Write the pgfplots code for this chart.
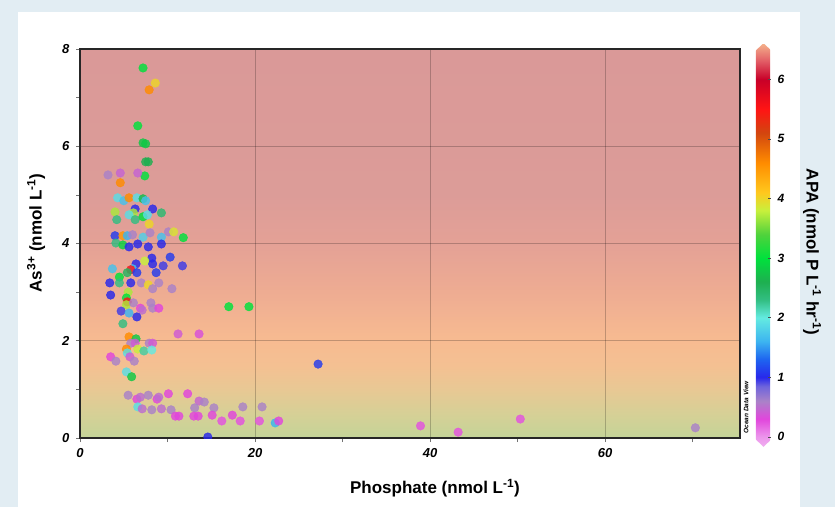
\documentclass[border=0pt]{standalone}
\usepackage{fontspec}
\setmainfont{Liberation Sans}
\usepackage{pgfplots}
\pgfplotsset{compat=1.18}
\usepackage{pgfplotstable}

\definecolor{outerbg}{RGB}{226,237,243}
\definecolor{bgA}{RGB}{196,212,152}
\definecolor{bgB}{RGB}{214,208,150}
\definecolor{bgC}{RGB}{232,200,148}
\definecolor{bgD}{RGB}{244,192,146}
\definecolor{bgE}{RGB}{247,187,145}
\definecolor{bgF}{RGB}{238,172,146}
\definecolor{bgG}{RGB}{228,161,150}
\definecolor{bgH}{RGB}{220,156,152}
\definecolor{bgI}{RGB}{218,153,152}

\pgfdeclareverticalshading{bgshade}{100bp}{color(0bp)=(bgA); color(25bp)=(bgA); color(28.125bp)=(bgB); color(31.25bp)=(bgC); color(34.375bp)=(bgD); color(37.5bp)=(bgE); color(43.75bp)=(bgF); color(50bp)=(bgG); color(56.25bp)=(bgH); color(75bp)=(bgI); color(100bp)=(bgI)}

\pgfplotsset{
  colormap={apa}{
    rgb255(0pt)=(240,175,240);
    rgb255(17pt)=(236,150,236);
    rgb255(47pt)=(225,70,220);
    rgb255(77pt)=(170,130,200);
    rgb255(102pt)=(110,100,220);
    rgb255(117pt)=(40,40,235);
    rgb255(147pt)=(30,100,240);
    rgb255(177pt)=(60,180,240);
    rgb255(217pt)=(100,235,225);
    rgb255(247pt)=(50,190,130);
    rgb255(277pt)=(30,175,80);
    rgb255(317pt)=(0,225,60);
    rgb255(357pt)=(80,210,60);
    rgb255(397pt)=(200,240,60);
    rgb255(427pt)=(255,200,30);
    rgb255(477pt)=(255,140,0);
    rgb255(527pt)=(210,70,15);
    rgb255(567pt)=(255,20,20);
    rgb255(617pt)=(200,0,40);
    rgb255(647pt)=(225,90,100);
    rgb255(678pt)=(245,180,140)
  }
}

\pgfplotstableread{
x y c
7.2 7.61 3.0
8.6 7.30 4.0
7.9 7.16 4.6
6.6 6.42 3.0
7.2 6.07 2.8
7.5 6.05 2.8
7.5 5.68 2.6
7.8 5.68 2.6
7.4 5.39 3.0
3.2 5.41 0.6
4.6 5.45 0.45
6.6 5.45 0.45
4.6 5.25 4.6
4.3 4.94 1.9
5.0 4.88 1.7
5.6 4.94 4.6
6.5 4.94 1.9
7.2 4.92 2.7
7.5 4.88 1.7
6.3 4.71 1.0
8.3 4.71 1.0
9.3 4.63 2.4
4.0 4.65 3.7
6.1 4.63 3.7
5.6 4.59 1.9
4.2 4.49 2.3
6.3 4.49 2.3
7.2 4.55 3.0
7.7 4.59 1.9
7.9 4.40 4.0
4.0 4.16 1.1
4.9 4.16 4.5
5.4 4.16 1.6
6.0 4.18 0.6
7.2 4.13 1.8
8.0 4.22 0.6
10.1 4.24 0.6
10.7 4.24 3.9
11.8 4.12 3.0
9.3 4.13 1.7
4.1 4.01 2.3
4.9 3.97 2.9
5.6 3.93 1.0
6.6 3.99 1.0
7.8 3.93 1.0
9.3 3.99 1.0
8.2 3.70 1.0
10.3 3.72 1.1
7.4 3.64 3.8
8.3 3.58 1.0
6.4 3.58 1.0
9.5 3.54 0.95
11.7 3.54 0.95
3.7 3.48 1.7
6.0 3.48 1.7
5.8 3.46 5.5
5.4 3.40 2.5
6.5 3.40 1.1
8.7 3.40 1.1
4.5 3.31 3.0
4.5 3.19 2.3
3.4 3.19 1.0
5.8 3.19 1.0
7.0 3.19 0.6
7.8 3.15 4.0
8.3 3.07 0.6
9.0 3.19 0.6
10.5 3.07 0.6
3.5 2.94 1.0
5.5 3.00 3.7
5.3 2.88 3.0
5.4 2.80 5.5
5.3 2.74 3.7
6.1 2.78 0.6
6.9 2.67 0.3
7.1 2.63 0.5
8.1 2.78 0.6
8.3 2.67 0.6
9.0 2.67 0.3
4.7 2.61 0.95
5.6 2.57 1.6
6.5 2.49 1.0
4.9 2.35 2.3
11.2 2.14 0.4
13.6 2.14 0.35
17.0 2.70 3.0
19.3 2.70 3.0
5.6 2.08 4.6
6.4 2.04 2.8
5.8 1.95 0.6
6.3 1.95 0.4
7.9 1.95 0.6
8.3 1.95 0.4
5.3 1.83 4.6
5.4 1.75 1.9
6.6 1.83 3.8
7.3 1.79 2.2
8.2 1.81 2.0
3.5 1.67 0.3
4.1 1.58 0.6
5.7 1.67 0.4
6.2 1.58 0.6
5.3 1.36 1.9
5.9 1.26 2.8
27.2 1.52 1.1
5.5 0.88 0.6
6.5 0.80 0.3
6.9 0.84 0.5
7.8 0.88 0.6
8.8 0.80 0.3
9.0 0.84 0.5
10.1 0.91 0.3
12.3 0.91 0.3
13.6 0.76 0.45
14.2 0.74 0.6
6.6 0.64 1.9
7.1 0.60 0.5
8.2 0.58 0.6
9.3 0.60 0.5
10.4 0.58 0.6
10.9 0.45 0.3
11.3 0.45 0.3
13.1 0.62 0.6
13.0 0.45 0.3
13.5 0.45 0.3
15.3 0.62 0.6
15.1 0.47 0.3
16.2 0.35 0.25
17.4 0.47 0.3
18.3 0.35 0.25
18.6 0.64 0.6
20.5 0.35 0.25
20.8 0.64 0.6
22.3 0.31 1.6
22.7 0.35 0.3
14.6 0.02 1.0
38.9 0.25 0.25
43.2 0.12 0.25
50.3 0.39 0.25
70.3 0.21 0.6
}\apadata

\begin{document}
\begin{tikzpicture}[x=1pt,y=1pt]
\useasboundingbox (0,0) rectangle (835,507);
\fill[outerbg] (0,0) rectangle (835,507);
\fill[white] (18,0) rectangle (800,495);
\begin{axis}[
  at={(80pt,69pt)}, anchor=south west,
  scale only axis, width=660pt, height=389pt,
  xmin=0, xmax=75.4, ymin=0, ymax=8,
  xtick={0,20,40,60}, minor xtick={10,30,50,70},
  ytick={0,2,4,6,8}, minor ytick={1,3,5,7},
  tick align=outside, tick pos=left,
  major tick length=4pt, minor tick length=4pt,
  tick style={black!55, line width=0.6pt},
  grid=major,
  major grid style={line width=0.8pt, black, opacity=0.22},
  axis line style={line width=1.5pt, black!85},
  axis background/.style={shade, shading=bgshade},
  /pgf/number format/assume math mode=true,
  ticklabel style={font=\fontsize{13}{13}\selectfont\bfseries\itshape},
  xticklabel style={yshift=-3pt},
  yticklabel style={xshift=-3pt},
  colormap name=apa,
  point meta min=-0.17, point meta max=6.61,
  clip marker paths=true,
  colorbar,
  colorbar style={
    at={(1.0242,-0.0231)}, anchor=south west,
    scale only axis, width=15pt, height=404pt,
    axis line style={draw=none},
    ytick={0,1,2,3,4,5,6},
    ytick pos=right, tick align=inside,
    major tick length=3pt,
    tick style={black!70, line width=0.6pt},
    /pgf/number format/assume math mode=true,
    yticklabel style={font=\fontsize{12}{12}\selectfont\bfseries\itshape, xshift=3pt},
  },
]
\addplot[scatter, only marks, mark=*, mark size=4.3pt, opacity=0.82,
  point meta=explicit,
  scatter/use mapped color={draw=mapped color, fill=mapped color}]
  table[x=x, y=y, meta=c] {\apadata};
\end{axis}
% pointed ends of colour bar
\fill[white] (754,455) -- (763.5,464) -- (763.5,466) -- (754,466) -- cycle;
\fill[white] (773,455) -- (763.5,464) -- (763.5,466) -- (773,466) -- cycle;
\fill[white] (754,69) -- (763.5,60) -- (763.5,58) -- (754,58) -- cycle;
\fill[white] (773,69) -- (763.5,60) -- (763.5,58) -- (773,58) -- cycle;
\node[rotate=90, anchor=west, font=\fontsize{6.5}{6.5}\selectfont\bfseries\itshape] at (746,70) {Ocean Data View};
\node[rotate=90, font=\fontsize{17}{17}\selectfont\bfseries] at (36,274) {As\textsuperscript{3+} (nmol L\textsuperscript{-1})};
\node[font=\fontsize{17}{17}\selectfont\bfseries] at (435,19) {Phosphate (nmol L\textsuperscript{-1})};
\node[rotate=-90, font=\fontsize{17}{17}\selectfont\bfseries] at (812,255) {APA (nmol P L\textsuperscript{-1} hr\textsuperscript{-1})};
\end{tikzpicture}
\end{document}
